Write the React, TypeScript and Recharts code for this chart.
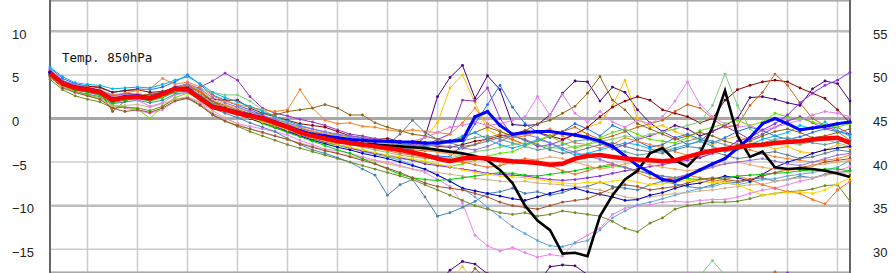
import { LineChart, Line, XAxis, YAxis, CartesianGrid } from "recharts";

// forecast hours, 6-hourly, 16 days
const HOURS = [
  0, 6, 12, 18, 24, 30, 36, 42, 48, 54, 60, 66, 72, 78, 84, 90, 96, 102, 108, 114, 120, 126, 132, 138,
  144, 150, 156, 162, 168, 174, 180, 186, 192, 198, 204, 210, 216, 222, 228, 234, 240, 246, 252, 258,
  264, 270, 276, 282, 288, 294, 300, 306, 312, 318, 324, 330, 336, 342, 348, 354, 360, 366, 372, 378, 384,
];
// 00 UTC day lines
const GRID_HOURS = [18, 42, 66, 90, 114, 138, 162, 186, 210, 234, 258, 282, 306, 330, 354, 378];
const LEFT_TICKS = [-15, -10, -5, 0, 5, 10];
const RIGHT_TICKS = [30, 35, 40, 45, 50, 55];
const TEN_TICKS = [-10, 10];
const ZERO_TICKS = [0];

// ensemble mean (red)
const MEAN = [
  5.2, 4.0, 3.5, 3.3, 3.0, 2.1, 2.4, 2.5, 2.3, 2.8, 3.4, 3.3, 2.3, 1.3, 1.0, 0.6, 0.3,
  0.0, -0.5, -1.0, -1.6, -2.0, -2.3, -2.6, -2.8, -3.0, -3.2, -3.4, -3.6, -3.9, -4.2, -4.6, -4.9,
  -4.6, -4.5, -4.6, -4.75, -4.9, -5.0, -5.1, -5.3, -5.2, -4.6, -4.3, -4.2, -4.4, -4.6, -4.7, -4.8,
  -4.9, -4.8, -4.4, -4.0, -3.7, -3.5, -3.3, -3.1, -3.0, -2.8, -2.7, -2.6, -2.4, -2.3, -2.2, -2.8,
];
// control run (blue)
const CTRL = [
  5.3, 4.1, 3.6, 3.4, 3.1, 2.2, 2.5, 2.6, 2.4, 2.9, 3.5, 3.4, 2.4, 1.4, 1.1, 0.7, 0.4,
  0.1, -0.4, -0.9, -1.4, -1.8, -2.0, -2.2, -2.4, -2.5, -2.6, -2.6, -2.7, -2.7, -2.8, -2.8, -2.6,
  -2.5, 0.2, 0.8, -0.8, -1.8, -1.6, -1.5, -1.5, -1.7, -1.9, -2.2, -2.6, -3.2, -4.3, -5.4, -6.2,
  -7.0, -7.2, -6.6, -5.9, -5.2, -4.6, -3.4, -2.2, -0.6, 0.0, -0.6, -1.3, -1.1, -0.9, -0.6, -0.4,
];
// operational run (black)
const OPER = [
  5.2, 4.0, 3.5, 3.3, 3.0, 2.1, 2.4, 2.5, 2.3, 2.8, 3.4, 3.3, 2.3, 1.3, 1.0, 0.6, 0.3,
  0.0, -0.5, -1.0, -1.5, -1.9, -2.2, -2.5, -2.7, -2.9, -3.0, -3.1, -3.2, -3.3, -3.4, -3.6, -3.8,
  -4.0, -4.3, -4.8, -5.9, -7.4, -10.0, -11.7, -12.8, -15.5, -15.4, -15.8, -11.2, -8.8, -7.0, -6.0, -4.0,
  -3.4, -4.8, -5.5, -4.0, -1.0, 3.2, -2.0, -4.4, -3.8, -5.6, -5.8, -5.7, -5.8, -6.0, -6.3, -6.7,
];

const M1 = [
  5.4, 4.1, 3.6, 3.4, 3.1, 2.3, 2.6, 2.7, 2.5, 2.9, 3.6, 3.8, 3.0, 1.9, 1.2, 0.8, 0.4,
  0.0, -0.6, -1.0, -1.5, -1.9, -2.3, -2.6, -2.9, -3.1, -3.3, -3.5, -3.8, -3.4, -2.1, 2.5, 4.7,
  6.1, 2.3, 4.9, 3.3, -0.7, -0.8, -0.7, 0.4, 2.9, 4.3, 4.2, 2.0, 3.6, 3.0, 1.0, -0.5,
  -1.5, -0.8, -1.2, -2.0, -1.5, -0.8, 0.0, 2.4, 2.5, 2.2, 1.8, 1.5, 3.4, 4.3, 4.0, 2.0,
];
const M2 = [
  5.1, 3.8, 3.4, 3.1, 2.9, 2.0, 2.3, 2.6, 2.2, 2.6, 3.2, 3.4, 2.6, 1.4, 1.0, 0.5, 0.0,
  -0.5, -0.9, -1.4, -1.8, -2.2, -2.5, -2.6, -2.8, -3.0, -3.2, -3.2, -3.1, -2.8, -2.2, -0.5, 3.5,
  5.0, 1.8, -1.3, -2.1, -2.5, -3.0, -2.6, -2.0, -1.6, -2.0, -1.0, -0.5, 1.5, 4.4, 0.0, -1.0,
  -0.8, -1.5, -2.0, -2.6, -3.0, -2.4, -2.0, -2.6, -3.0, -3.5, -3.2, -3.8, -4.0, -3.6, -3.0, -3.4,
];
const M3 = [
  5.0, 4.3, 3.9, 3.5, 3.2, 2.6, 2.9, 2.8, 2.7, 3.0, 3.6, 3.2, 3.6, 4.3, 5.2, 4.4, 2.5,
  1.2, 0.6, 0.3, -0.1, -0.4, -0.8, -1.3, -1.8, -2.0, -2.3, -2.6, -2.9, -3.0, -3.1, -2.4, -1.8,
  2.1, 2.0, 3.5, 0.0, -2.0, -2.5, -3.2, -3.0, -2.5, -1.8, -2.0, -2.8, -3.5, -3.0, -2.4, -2.0,
  -1.5, -2.2, -3.0, -2.6, -1.4, -0.9, -1.6, -2.4, -1.8, -1.0, -0.3, 0.2, -0.5, -1.2, -1.0, -1.8,
];
const M4 = [
  5.2, 4.0, 3.3, 3.0, 2.6, 1.6, 1.2, 0.9, 0.6, 1.0, 2.0, 2.4, 1.8, 0.6, 0.0, -0.6, -0.9,
  -1.2, -1.5, -1.9, -2.5, -3.0, -3.5, -3.7, -4.0, -4.4, -4.8, -5.0, -5.4, -5.8, -6.2, -7.0, -7.8,
  -9.7, -13.4, -14.6, -15.2, -14.8, -15.4, -15.9, -15.6, -15.8, -14.2, -13.4, -12.6, -11.0, -10.3, -10.0, -9.9,
  -9.6, -9.5, -9.6, -9.4, -9.3, -9.3, -9.0, -8.6, -8.2, -8.0, -7.6, -7.2, -6.9, -6.5, -6.0, -5.5,
];
const M5 = [
  4.9, 3.7, 3.1, 2.8, 2.5, 1.7, 1.9, 2.1, 1.8, 2.1, 2.8, 3.0, 2.2, 1.2, 0.6, 0.1, -0.5,
  -1.0, -1.5, -2.3, -3.0, -3.6, -4.0, -4.5, -5.0, -5.8, -6.5, -8.8, -7.6, -7.0, -9.0, -11.2, -10.8,
  -10.2, -9.5, -8.6, -8.4, -8.0, -8.6, -8.4, -8.8, -8.5, -8.0, -7.8, -7.3, -7.8, -8.0, -8.2, -7.6,
  -7.2, -7.5, -7.8, -8.0, -7.6, -7.2, -7.4, -7.0, -6.8, -7.2, -7.0, -6.6, -6.8, -6.4, -6.2, -6.0,
];
const M6 = [
  5.6, 4.3, 3.7, 3.2, 3.0, 2.4, 2.7, 2.7, 2.6, 2.9, 3.4, 3.7, 2.9, 1.8, 1.2, 0.7, 0.3,
  -0.2, -0.6, -1.1, -1.6, -2.1, -2.5, -3.0, -3.4, -3.8, -4.1, -4.4, -4.8, -5.3, -5.9, -6.5, -7.2,
  -8.0, -9.0, -10.2, -11.3, -12.4, -13.2, -14.0, -14.6, -14.7, -14.3, -14.0, -12.8, -11.4, -10.6, -9.9, -9.6,
  -9.2, -8.8, -8.4, -8.0, -7.8, -7.4, -7.6, -7.3, -7.0, -6.9, -6.6, -6.4, -6.2, -5.9, -5.6, -4.8,
];
const M7 = [
  5.8, 4.6, 4.0, 3.7, 3.5, 3.0, 3.2, 3.4, 3.3, 3.6, 4.2, 5.0, 3.9, 2.7, 2.1, 1.5, 1.0,
  0.4, -0.2, -0.7, -1.1, -1.5, -1.9, -2.2, -2.5, -2.8, -3.0, -3.3, -3.6, -3.9, -4.1, -4.3, -4.4,
  -3.0, -0.6, 1.6, 3.8, 1.3, -0.6, -1.6, -2.2, -1.5, -0.6, -1.2, -2.0, -0.8, -1.4, -2.6, -3.3,
  -3.0, -2.2, -1.8, -2.4, -2.8, -2.2, -1.5, -1.0, -1.4, -2.0, -2.4, -2.1, -1.6, -1.2, -1.5, -1.8,
];
const M8 = [
  5.1, 3.9, 3.6, 3.7, 3.6, 3.0, 3.2, 3.3, 3.0, 3.1, 3.3, 3.6, 2.6, 2.2, 2.1, 2.1, 1.2,
  0.6, 0.2, -0.2, -0.6, -0.8, -1.0, -1.5, -2.0, -2.2, -2.4, -2.3, -2.6, -2.8, -3.0, -3.2, -3.3,
  -3.0, -2.6, -2.4, -2.0, -1.8, -1.4, -1.6, -2.0, -2.4, -1.8, -1.0, 0.2, 1.3, 2.0, 2.5, 2.1,
  1.0, 0.6, 0.2, -0.5, 0.0, 2.1, 3.3, 3.8, 4.2, 4.4, 4.2, 3.5, 2.9, 2.3, 1.0, -0.5,
];
const M9 = [
  5.3, 4.1, 3.5, 3.3, 3.0, 2.2, 2.5, 2.7, 2.3, 2.9, 3.4, 3.9, 3.2, 2.0, 1.3, 0.9, 0.5,
  0.1, -0.3, -0.7, -1.1, -1.5, -1.8, -2.0, -2.3, -2.6, -2.9, -3.2, -3.4, -3.6, -3.7, -3.8, -3.9,
  -3.4, -3.0, -2.2, -1.8, -2.4, -3.0, -2.6, -2.0, -1.5, -1.0, -1.8, -2.4, -2.0, -1.5, -1.0, -0.6,
  -0.2, 0.8, 1.6, 1.2, 0.0, -1.0, -0.8, 1.5, 3.0, 5.1, 3.8, 1.8, 0.0, -0.8, -1.5, -2.5,
];
const M10 = [
  5.4, 4.2, 3.9, 3.6, 3.3, 2.7, 2.9, 3.2, 3.4, 4.6, 3.9, 4.2, 3.6, 2.6, 2.0, 1.6, 1.3,
  1.0, 0.8, 1.0, 3.3, 1.2, -0.2, -0.6, -0.5, -0.9, -1.0, -1.3, -1.5, -1.3, -1.5, -1.6, -1.8,
  -0.5, 1.2, -0.6, -1.4, -2.2, -2.0, -1.6, -1.2, -2.0, -2.8, -3.0, -3.4, -3.0, -2.2, -2.6, -3.0,
  -3.3, -3.8, -4.2, -4.5, -4.0, -3.6, -3.2, -3.6, -4.0, -4.4, -4.6, -4.8, -5.0, -4.8, -4.6, -4.2,
];
const M11 = [
  4.7, 3.8, 3.2, 3.1, 2.8, 2.0, 2.4, 2.6, 2.6, 2.9, 3.4, 3.6, 3.4, 3.0, 2.7, 2.7, 2.0,
  1.0, 0.2, -0.5, -1.2, -1.8, -2.3, -2.6, -3.0, -3.3, -3.6, -3.9, -4.2, -4.4, -4.6, -4.6, -4.5,
  -4.2, -3.8, -3.6, -3.3, -3.0, -2.8, -3.0, -3.3, -3.5, -3.2, -3.0, -2.6, -2.4, -2.0, -2.2, -1.8,
  -1.6, -1.2, -0.8, -0.4, 1.5, 5.1, 1.5, -1.2, -2.2, -2.6, -2.8, -3.0, -2.6, -2.4, -2.8, -3.2,
];
const M12 = [
  5.0, 3.7, 3.1, 2.7, 2.4, 1.5, 1.3, 1.1, 0.0, 1.4, 2.4, 2.9, 2.2, 1.3, 0.9, 0.5, 0.0,
  -0.6, -1.1, -1.6, -2.0, -2.4, -2.8, -3.1, -3.4, -3.7, -4.0, -4.3, -4.6, -4.8, -5.0, -5.3, -5.5,
  -5.2, -4.8, -4.3, -4.0, -3.8, -3.2, -2.5, -2.0, -2.8, -3.4, -3.0, -2.2, -1.6, -1.2, -1.8, -2.4,
  -2.6, -2.8, -2.2, -1.4, -1.0, -0.6, -0.2, -0.8, -0.4, 0.6, 0.2, 0.0, -0.4, -0.8, -1.0, -0.6,
];
const M13 = [
  4.5, 3.3, 2.6, 2.2, 1.9, 1.2, 1.3, 1.2, 0.9, 1.4, 2.2, 2.4, 1.6, 0.5, -0.3, -0.9, -1.5,
  -2.0, -2.5, -3.0, -3.4, -3.8, -4.2, -4.6, -5.0, -5.4, -5.8, -6.2, -6.6, -7.0, -7.6, -8.2, -8.8,
  -9.4, -10.0, -10.4, -10.8, -11.0, -10.8, -11.2, -11.0, -10.6, -10.8, -11.0, -11.2, -11.8, -12.6, -13.0, -12.0,
  -11.4, -10.4, -10.0, -9.8, -9.6, -9.6, -9.5, -9.2, -8.8, -8.6, -8.4, -8.3, -8.1, -7.7, -7.6, -9.5,
];
const M14 = [
  5.2, 4.0, 3.6, 3.3, 3.1, 0.8, 2.0, 2.6, 2.8, 3.0, 3.5, 3.7, 3.1, 2.0, 1.5, 1.0, 0.6,
  0.6, 0.4, 0.8, 1.0, 1.2, 1.6, 1.2, 0.4, 0.4, -0.5, -1.0, -1.4, -1.8, -2.0, -2.4, -2.6,
  -2.2, -1.6, -1.0, -1.5, -2.0, -1.4, -0.6, -0.2, 0.6, 1.4, 2.9, 4.8, 2.1, 1.0, -0.6, -1.2,
  -1.8, -2.4, -2.0, -1.6, -2.0, -2.6, -3.0, -2.6, -2.0, -1.5, -1.2, -1.6, -2.2, -2.0, -1.6, -1.2,
];
const M15 = [
  5.1, 3.6, 3.0, 2.6, 2.2, 1.4, 1.5, 1.6, 1.3, 1.7, 2.2, 2.5, 1.9, 0.9, 0.1, -0.6, -1.2,
  -1.6, -2.0, -2.4, -2.8, -3.2, -3.6, -4.0, -4.3, -4.6, -4.9, -5.2, -5.5, -5.8, -6.0, -6.2, -6.4,
  -6.6, -6.9, -7.0, -7.2, -7.3, -7.2, -7.4, -7.5, -7.6, -7.8, -8.0, -8.2, -8.6, -9.0, -9.2, -9.0,
  -8.8, -8.6, -8.5, -8.3, -8.2, -8.0, -7.8, -7.6, -7.6, -7.2, -7.0, -6.8, -6.8, -6.5, -6.3, -6.2,
];
const M16 = [
  5.5, 4.3, 3.6, 3.2, 2.9, 2.1, 2.3, 2.1, 1.4, 1.8, 2.7, 3.0, 2.5, 1.6, 1.0, 0.5, 0.1,
  -0.3, -0.8, -1.2, -1.6, -2.0, -2.3, -2.6, -2.8, -3.0, -3.2, -3.2, -3.0, -2.6, -2.2, -1.6, -1.0,
  -0.8, -0.4, -0.8, -0.6, -0.2, 0.2, 2.5, 0.4, 2.8, 0.6, -0.4, 0.8, -0.4, -1.0, -0.2, -0.6,
  0.2, 2.0, 4.2, 1.6, 0.2, -0.6, -1.0, -0.8, -1.4, -1.0, -0.6, -0.2, 0.4, 0.8, 0.6, 0.2,
];
const M17 = [
  5.0, 3.9, 3.5, 3.1, 2.9, 2.2, 2.5, 2.4, 2.1, 2.5, 3.1, 3.3, 2.7, 1.7, 1.2, 0.7, 0.2,
  -0.4, -0.9, -1.4, -1.9, -2.3, -2.7, -3.0, -3.4, -3.7, -4.0, -4.2, -4.5, -4.8, -5.2, -5.4, -5.6,
  -5.8, -6.0, -6.3, -6.4, -6.5, -6.6, -6.8, -7.0, -7.1, -7.0, -6.8, -6.6, -6.3, -6.0, -5.8, -5.5,
  -5.3, -5.0, -4.8, -4.5, -4.0, -3.5, -2.6, -2.2, -1.3, -0.6, 0.4, 1.8, 2.9, 3.8, 4.4, 5.3,
];
const M18 = [
  5.9, 4.8, 4.1, 3.9, 3.8, 3.4, 3.5, 3.6, 3.5, 3.9, 4.4, 4.8, 4.0, 3.0, 2.4, 1.9, 1.4,
  0.8, 0.2, -0.3, -0.8, -1.2, -1.6, -1.9, -2.1, -2.4, -2.6, -2.8, -3.0, -3.1, -3.2, -3.0, -2.6,
  -2.0, -1.6, -2.4, -3.0, -3.4, -3.0, -2.4, -2.8, -3.6, -4.2, -4.0, -3.6, -3.2, -2.8, -3.0, -3.5,
  -3.8, -3.4, -3.0, -2.6, -3.2, -3.8, -3.6, -3.0, -2.4, -2.0, -1.6, -0.8, -1.2, -0.4, -1.4, -2.0,
];
const M19 = [
  5.3, 4.1, 3.5, 3.2, 3.0, 2.0, 2.4, 2.6, 2.4, 2.7, 3.3, 3.6, 2.7, 1.6, 1.0, 0.5, 0.0,
  -0.5, -1.0, -1.5, -2.0, -2.5, -2.9, -3.3, -3.6, -4.0, -4.3, -4.6, -5.0, -5.4, -5.8, -6.5, -7.2,
  -8.0, -8.3, -8.6, -8.9, -9.2, -9.4, -9.0, -8.6, -8.2, -8.0, -8.4, -8.7, -9.0, -9.4, -9.3, -8.8,
  -8.5, -8.0, -7.6, -7.4, -7.0, -6.6, -6.8, -7.2, -6.4, -5.6, -5.0, -4.6, -4.0, -3.6, -3.4, -3.2,
];
const M20 = [
  5.0, 3.8, 3.4, 3.2, 3.0, 2.2, 2.3, 2.6, 2.4, 2.7, 3.2, 3.5, 2.6, 1.5, 1.0, 0.6, 0.2,
  -0.3, -0.8, -1.2, -1.6, -2.0, -2.3, -2.6, -2.9, -3.1, -3.2, -3.0, -1.8, -0.2, -1.6, -2.4, -2.8,
  -3.2, -3.0, -2.6, -2.2, -2.0, -2.4, -3.0, -3.6, -4.0, -3.8, -3.4, -3.0, -2.8, -3.2, -3.6, -3.8,
  -4.0, -3.6, -3.2, -3.4, -3.8, -4.2, -4.6, -4.4, -4.0, -3.8, -4.2, -4.6, -4.4, -4.0, -3.6, -3.8,
];
const M21 = [
  5.5, 4.3, 3.7, 3.5, 3.2, 2.5, 2.6, 2.8, 2.5, 2.8, 3.4, 3.8, 3.0, 1.8, 1.2, 0.8, 0.3,
  -0.2, -0.6, -1.0, -1.5, -1.9, -2.2, -2.5, -2.8, -3.1, -3.4, -3.7, -4.0, -4.2, -4.5, -4.7, -4.9,
  -5.0, -5.3, -5.6, -5.4, -5.0, -4.6, -4.8, -5.4, -6.0, -6.4, -6.0, -5.5, -5.2, -5.6, -6.2, -6.8,
  -7.0, -6.8, -6.5, -6.8, -7.2, -7.0, -6.6, -7.0, -7.6, -8.0, -8.4, -8.6, -9.3, -9.8, -8.2, -7.2,
];
const M22 = [
  5.1, 3.9, 3.3, 3.0, 2.7, 1.8, 2.1, 2.3, 2.0, 2.4, 3.0, 3.2, 2.6, 1.6, 1.1, 0.6, 0.1,
  -0.4, -1.0, -1.6, -2.1, -2.6, -3.1, -3.6, -4.0, -4.6, -5.2, -5.8, -6.4, -6.8, -7.0, -7.1, -7.0,
  -6.8, -6.6, -6.4, -6.2, -6.3, -6.5, -6.6, -6.4, -6.2, -6.0, -5.7, -5.6, -5.4, -5.6, -6.0, -6.4,
  -6.6, -6.8, -6.9, -7.0, -6.9, -6.8, -6.6, -6.5, -6.4, -6.3, -6.2, -6.0, -5.9, -5.8, -5.8, -6.0,
];
const M23 = [
  4.8, 3.5, 3.0, 2.6, 2.2, 1.2, 0.8, 1.0, 0.7, 1.2, 2.0, 2.3, 1.5, 0.4, -0.3, -0.8, -1.2,
  -1.6, -2.0, -2.4, -2.9, -3.3, -3.7, -4.0, -4.4, -4.8, -5.2, -5.7, -6.2, -6.8, -7.4, -7.8, -8.0,
  -8.2, -8.6, -9.0, -9.6, -10.0, -10.2, -10.4, -10.0, -9.6, -9.4, -9.2, -8.6, -8.0, -7.6, -7.8, -8.2,
  -8.0, -7.8, -7.4, -7.0, -6.8, -7.0, -7.2, -7.0, -6.6, -6.2, -5.9, -5.6, -5.4, -5.0, -4.8, -4.6,
];
const M24 = [
  5.3, 4.0, 3.5, 3.2, 2.9, 2.1, 2.5, 2.4, 2.2, 2.6, 3.2, 3.4, 2.8, 1.7, 1.0, 0.6, 0.1,
  -0.4, -0.8, -1.3, -1.8, -2.2, -2.6, -3.0, -3.3, -3.6, -3.9, -4.2, -4.4, -4.6, -4.9, -5.2, -5.5,
  -5.9, -6.2, -6.4, -6.6, -6.7, -6.8, -7.0, -7.2, -7.4, -7.5, -7.3, -7.4, -7.2, -7.0, -7.3, -7.6,
  -7.5, -7.3, -7.1, -7.2, -7.4, -7.3, -7.6, -8.2, -8.8, -8.6, -8.5, -8.4, -8.6, -8.2, -7.5, -6.8,
];
const M25 = [
  5.2, 4.0, 3.5, 3.3, 3.0, 2.3, 2.6, 2.6, 2.3, 2.8, 3.3, 3.5, 2.7, 1.7, 1.1, 0.7, 0.3,
  -0.2, -0.7, -1.1, -1.5, -1.9, -2.2, -2.4, -2.7, -2.9, -3.1, -3.3, -3.5, -3.4, -3.2, -3.0, -2.8,
  -2.6, -2.2, -2.0, -2.4, -2.8, -3.2, -3.6, -3.4, -3.0, -2.6, -2.4, -2.8, -3.4, -3.8, -4.2, -4.0,
  -3.6, -3.0, -2.6, -2.2, -2.6, -3.0, -3.4, -3.2, -2.8, -2.4, -2.2, -2.5, -2.8, -3.0, -2.7, -2.4,
];
const M26 = [
  5.4, 4.1, 3.6, 3.4, 3.1, 2.4, 2.7, 2.9, 2.5, 2.9, 3.5, 4.0, 3.3, 2.2, 1.6, 1.2, 0.7,
  0.2, -0.2, -0.6, -1.0, -1.4, -1.7, -2.0, -2.2, -2.5, -2.7, -2.9, -3.1, -3.3, -3.6, -3.9, -4.1,
  -4.3, -4.6, -4.8, -5.0, -5.2, -5.0, -4.7, -4.4, -4.6, -5.0, -5.4, -5.8, -5.6, -5.2, -5.0, -5.3,
  -5.6, -5.8, -6.0, -5.8, -5.4, -5.2, -5.0, -5.3, -5.6, -5.8, -6.0, -5.8, -5.4, -5.2, -5.0, -4.8,
];
const M27 = [
  5.6, 4.4, 3.8, 3.5, 3.2, 2.6, 2.8, 2.7, 2.5, 3.0, 3.6, 4.0, 3.4, 2.4, 1.8, 1.3, 0.8,
  0.3, -0.1, -0.5, -0.9, -1.2, -1.5, -1.8, -2.0, -2.2, -2.4, -2.6, -2.7, -2.9, -3.0, -3.1, -3.2,
  -3.4, -3.6, -3.2, -2.6, -2.0, -1.8, -2.2, -2.8, -3.4, -3.9, -4.3, -4.7, -5.2, -5.6, -6.0, -6.3,
  -6.6, -6.8, -6.4, -6.0, -5.6, -5.2, -5.0, -4.8, -4.6, -4.9, -5.2, -5.4, -5.0, -4.6, -4.2, -4.0,
];

// short pieces of members that only touch the bottom edge
const LOW_A_HOURS = [186, 192, 198, 204, 210, 216, 222, 228, 234, 240, 246, 252, 258, 264];
const LOW_A = [-19.0, -17.4, -16.4, -16.7, -17.8, -19.5, -20.0, -20.0, -19.0, -17.0, -16.8, -16.9, -17.9, -19.5];
const LOW_B_HOURS = [192, 198, 204];
const LOW_B = [-18.6, -17.0, -18.8];
const LOW_C_HOURS = [198, 204, 210];
const LOW_C = [-19.0, -17.2, -18.5];
const LOW_D_HOURS = [306, 312, 318, 324, 330];
const LOW_D = [-19.0, -18.0, -16.3, -18.0, -19.0];
const LOW_E_HOURS = [342, 348, 354];
const LOW_E = [-18.5, -17.6, -18.6];
const LOW_F_HOURS = [300, 306, 312];
const LOW_F = [-18.5, -17.7, -18.5];
const LOW_G_HOURS = [348, 354, 360];
const LOW_G = [-18.5, -17.7, -18.5];

const MEMBERS = [
  { key: "m1", color: "#4b0082", values: M1 },
  { key: "m2", color: "#ffc000", values: M2 },
  { key: "m3", color: "#9932cc", values: M3 },
  { key: "m4", color: "#ee82ee", values: M4 },
  { key: "m5", color: "#4682b4", values: M5 },
  { key: "m6", color: "#5ea6dc", values: M6 },
  { key: "m7", color: "#1e6fff", values: M7 },
  { key: "m8", color: "#8b0000", values: M8 },
  { key: "m9", color: "#cd661d", values: M9 },
  { key: "m10", color: "#ff7f24", values: M10 },
  { key: "m11", color: "#7ccd7c", values: M11 },
  { key: "m12", color: "#66e000", values: M12 },
  { key: "m13", color: "#6b8e23", values: M13 },
  { key: "m14", color: "#8b6914", values: M14 },
  { key: "m15", color: "#d2b48c", values: M15 },
  { key: "m16", color: "#e080f0", values: M16 },
  { key: "m17", color: "#8a2be2", values: M17 },
  { key: "m18", color: "#00b2ee", values: M18 },
  { key: "m19", color: "#0000cd", values: M19 },
  { key: "m20", color: "#607b8b", values: M20 },
  { key: "m21", color: "#ff6a1f", values: M21 },
  { key: "m22", color: "#00cd00", values: M22 },
  { key: "m23", color: "#a0522d", values: M23 },
  { key: "m24", color: "#ffd700", values: M24 },
  { key: "m25", color: "#5f9ea0", values: M25 },
  { key: "m26", color: "#f4a460", values: M26 },
  { key: "m27", color: "#9370db", values: M27 },
];

const LOWS = [
  { key: "la", color: "#4b0082", hours: LOW_A_HOURS, values: LOW_A },
  { key: "lb", color: "#ffc000", hours: LOW_B_HOURS, values: LOW_B },
  { key: "lc", color: "#8b6914", hours: LOW_C_HOURS, values: LOW_C },
  { key: "ld", color: "#7ccd7c", hours: LOW_D_HOURS, values: LOW_D },
  { key: "le", color: "#cd661d", hours: LOW_E_HOURS, values: LOW_E },
  { key: "lf", color: "#e080f0", hours: LOW_F_HOURS, values: LOW_F },
  { key: "lg", color: "#8a2be2", hours: LOW_G_HOURS, values: LOW_G },
];

const LEFT_DOMAIN = [-17.72, 13.59];
const RIGHT_DOMAIN = [27.28, 58.59];
const TICK_FONT = "'Liberation Sans', Arial, sans-serif";

const fmt = (v: number) => (v < 0 ? `\u2212${Math.abs(v)}` : `${v}`);

const LeftTick = (props: any) => (
  <text x={12} y={props.y + 7.5} fontSize={13} fontFamily={TICK_FONT} fill="#222">
    {fmt(props.payload.value)}
  </text>
);

const RightTick = (props: any) => (
  <text x={873} y={props.y + 7.5} fontSize={13} fontFamily={TICK_FONT} fill="#222">
    {fmt(props.payload.value)}
  </text>
);

export default function App() {
  const rows = HOURS.map((h, i) => {
    const row: Record<string, number> = { h, mean: MEAN[i], ctrl: CTRL[i], oper: OPER[i] };
    MEMBERS.forEach((m) => {
      row[m.key] = m.values[i];
    });
    return row;
  });

  return (
    <div style={{ position: "absolute", left: 0, top: 0, width: 896, height: 273, background: "#fff" }}>
      <LineChart width={896} height={273} data={rows} margin={{ top: 0, right: 0, bottom: 0, left: 0 }}>
        <XAxis dataKey="h" type="number" domain={[0, 384]} ticks={GRID_HOURS} hide />
        <YAxis
          yAxisId="left"
          width={50}
          domain={LEFT_DOMAIN}
          ticks={LEFT_TICKS}
          allowDataOverflow
          tickLine={false}
          axisLine={{ stroke: "#666", strokeWidth: 2 }}
          tick={LeftTick}
        />
        <YAxis
          yAxisId="right"
          orientation="right"
          width={46}
          domain={RIGHT_DOMAIN}
          ticks={RIGHT_TICKS}
          allowDataOverflow
          tickLine={false}
          axisLine={{ stroke: "#666", strokeWidth: 2 }}
          tick={RightTick}
        />
        <YAxis yAxisId="tens" hide domain={LEFT_DOMAIN} ticks={TEN_TICKS} allowDataOverflow />
        <YAxis yAxisId="zero" hide domain={LEFT_DOMAIN} ticks={ZERO_TICKS} allowDataOverflow />

        <CartesianGrid yAxisId="left" horizontal={false} stroke="#cccccc" strokeWidth={1.5} />
        <CartesianGrid yAxisId="left" vertical={false} stroke="#cccccc" strokeWidth={1.5} />
        <CartesianGrid yAxisId="tens" vertical={false} stroke="#bdbdbd" strokeWidth={2.5} />
        <CartesianGrid yAxisId="zero" vertical={false} stroke="#a8a8a8" strokeWidth={3} />

        {MEMBERS.map((m) => (
          <Line
            key={m.key}
            yAxisId="left"
            dataKey={m.key}
            type="linear"
            stroke={m.color}
            strokeWidth={1}
            dot={{ r: 1.4, fill: m.color, stroke: m.color, strokeWidth: 0 }}
            isAnimationActive={false}
          />
        ))}
        {LOWS.map((l) => (
          <Line
            key={l.key}
            yAxisId="left"
            data={l.hours.map((h, i) => ({ h, v: l.values[i] }))}
            dataKey="v"
            type="linear"
            stroke={l.color}
            strokeWidth={1}
            dot={{ r: 1.4, fill: l.color, stroke: l.color, strokeWidth: 0 }}
            isAnimationActive={false}
          />
        ))}
        <Line
          yAxisId="left"
          dataKey="oper"
          type="linear"
          stroke="#000"
          strokeWidth={2.6}
          dot={false}
          zIndex={1100}
          isAnimationActive={false}
        />
        <Line
          yAxisId="left"
          dataKey="ctrl"
          type="linear"
          stroke="#0000ff"
          strokeWidth={3}
          dot={{ r: 1.8, fill: "#0000ff", stroke: "#0000ff", strokeWidth: 0 }}
          zIndex={1200}
          isAnimationActive={false}
        />
        <Line
          yAxisId="left"
          dataKey="mean"
          type="linear"
          stroke="#ff0000"
          strokeWidth={4.5}
          dot={false}
          zIndex={1300}
          isAnimationActive={false}
        />
      </LineChart>
      <svg width={896} height={273} style={{ position: "absolute", left: 0, top: 0, pointerEvents: "none" }}>
        <text x={62} y={62} fontSize={12.5} fontFamily="'DejaVu Sans Mono', monospace" fill="#111">
          Temp. 850hPa
        </text>
      </svg>
    </div>
  );
}
